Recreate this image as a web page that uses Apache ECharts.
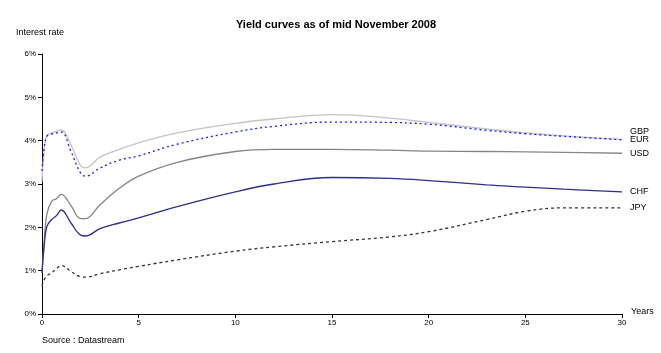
<!DOCTYPE html>
<html>
<head>
<meta charset="utf-8">
<script src="https://cdn.jsdelivr.net/npm/echarts@6/dist/echarts.min.js"></script>
<style>
  html, body { margin: 0; padding: 0; background: #fff; }
  #chart { width: 661px; height: 353px; }
</style>
</head>
<body>
<div id="chart"></div>
<script>
// maturities in years
const maturities = [0, 0.1, 0.25, 0.5, 0.75, 1, 1.5, 2, 2.25, 3, 4, 5, 7, 10, 12, 15, 18, 20, 23, 25, 27, 30]
// yields in %
const gbp = [3.05, 3.7, 4.12, 4.18, 4.22, 4.25, 3.9, 3.42, 3.37, 3.62, 3.8, 3.95, 4.18, 4.4, 4.5, 4.6, 4.52, 4.42, 4.27, 4.18, 4.11, 4.03]
const eur = [3.3, 3.8, 4.1, 4.15, 4.18, 4.2, 3.75, 3.25, 3.18, 3.37, 3.55, 3.65, 3.92, 4.2, 4.33, 4.43, 4.42, 4.38, 4.24, 4.16, 4.1, 4.02]
const usd = [0.95, 1.6, 2.3, 2.6, 2.66, 2.76, 2.5, 2.2, 2.2, 2.52, 2.9, 3.18, 3.5, 3.75, 3.8, 3.8, 3.78, 3.76, 3.75, 3.74, 3.73, 3.71]
const chf = [0.95, 1.5, 2.02, 2.18, 2.27, 2.4, 2.1, 1.82, 1.8, 1.97, 2.1, 2.22, 2.48, 2.82, 3.0, 3.15, 3.13, 3.08, 2.98, 2.93, 2.88, 2.82]
const jpy = [0.65, 0.78, 0.88, 0.95, 1.05, 1.12, 0.98, 0.86, 0.85, 0.93, 1.02, 1.1, 1.25, 1.45, 1.55, 1.67, 1.78, 1.9, 2.18, 2.37, 2.45, 2.45]

const font = 'Liberation Sans, Arial, sans-serif'

function pairs(values) {
  return maturities.map((m, i) => [m, values[i]])
}

function makeSeries(name, values, color, type, offset) {
  return {
    name: name,
    type: 'line',
    smooth: 0.4,
    showSymbol: false,
    data: pairs(values),
    lineStyle: { color: color, width: 1.3, type: type },
    itemStyle: { color: color },
    endLabel: {
      show: true,
      formatter: '{a}',
      distance: 8,
      offset: offset,
      color: '#000',
      fontSize: 9,
      fontFamily: font
    }
  }
}

const chart = echarts.init(document.getElementById('chart'))
const option = {
  animation: false,
  backgroundColor: '#fff',
  title: {
    text: 'Yield curves as of mid November 2008',
    left: 331,
    top: 14,
    textAlign: 'center',
    textStyle: { fontSize: 11, fontWeight: 'bold', fontFamily: font, color: '#000' }
  },
  grid: { left: 42, right: 39, top: 54, bottom: 39 },
  xAxis: {
    type: 'value',
    min: 0,
    max: 30,
    interval: 5,
    axisLine: { lineStyle: { color: '#000', width: 1 } },
    axisTick: { show: true, length: 4, lineStyle: { color: '#000' } },
    axisLabel: { color: '#000', fontSize: 8, fontFamily: font, margin: 5 },
    splitLine: { show: false }
  },
  yAxis: {
    type: 'value',
    min: 0,
    max: 6,
    interval: 1,
    axisLine: { show: true, lineStyle: { color: '#000', width: 1 } },
    axisTick: { show: true, length: 4, lineStyle: { color: '#000' } },
    axisLabel: { color: '#000', fontSize: 8, fontFamily: font, margin: 6, formatter: '{value}%' },
    splitLine: { show: false }
  },
  graphic: [
    { type: 'text', left: 16, top: 28, style: { text: 'Interest rate', fontSize: 9, fontFamily: font, fill: '#000' } },
    { type: 'text', left: 631, top: 307, style: { text: 'Years', fontSize: 9, fontFamily: font, fill: '#000' } },
    { type: 'text', left: 42, top: 336, style: { text: 'Source : Datastream', fontSize: 9, fontFamily: font, fill: '#000' } }
  ],
  series: [
    makeSeries('GBP', gbp, '#c4c4c4', 'solid', [0, -8]),
    makeSeries('EUR', eur, '#1a1aff', [2, 3], [0, 0]),
    makeSeries('USD', usd, '#858585', 'solid', [0, 0]),
    makeSeries('CHF', chf, '#2e2e8c', 'solid', [0, 0]),
    makeSeries('JPY', jpy, '#333333', [3, 3], [0, 0])
  ]
}
chart.setOption(option)
</script>
</body>
</html>
